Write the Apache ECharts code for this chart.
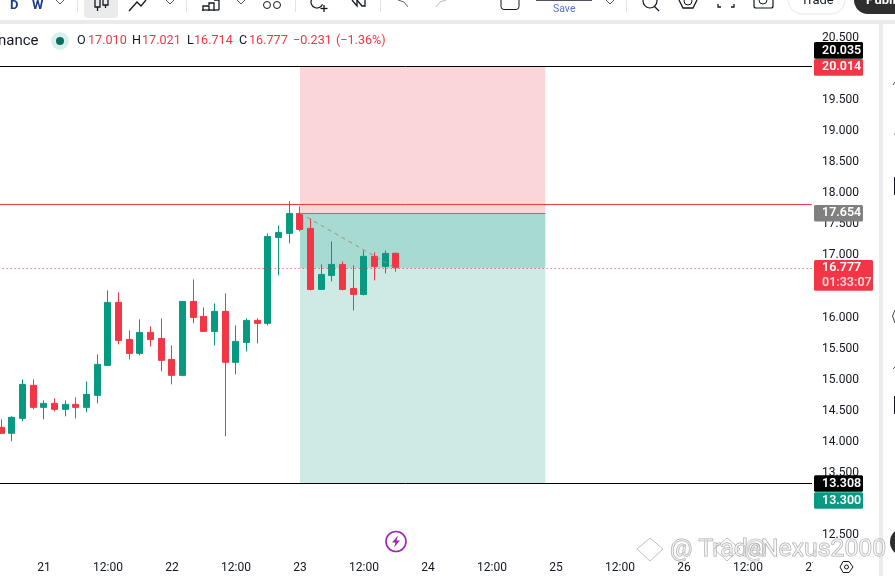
<!DOCTYPE html>
<html><head><meta charset="utf-8">
<style>html,body{margin:0;padding:0;background:#fff;overflow:hidden}#c{width:895px;height:576px}</style>
<script src="https://cdn.jsdelivr.net/npm/echarts@6/dist/echarts.min.js"></script>
</head><body><div id="c"></div>
<script>
const tickLabels = ['21','12:00','22','12:00','23','12:00','24','12:00','25','12:00','26','12:00','27'];
const opens  = [14.211,14.114,14.355,14.886,14.532,14.596,14.500,14.580,14.532,14.725,15.207,16.220,15.625,15.400,15.738,15.641,15.304,15.047,16.236,15.995,15.754,16.076,15.256,15.577,15.931,15.883,17.265,17.330,17.651,17.410,16.429,16.654,16.831,16.445,16.349,16.960,16.799,17.010];
const closes = [14.114,14.372,14.902,14.532,14.596,14.500,14.580,14.532,14.741,15.223,16.220,15.609,15.400,15.738,15.625,15.288,15.047,16.236,15.979,15.754,16.076,15.256,15.593,15.931,15.883,17.281,17.346,17.651,17.394,16.429,16.670,16.831,16.429,16.349,16.960,16.799,17.008,16.777];
const lows   = [14.114,13.986,14.307,14.500,14.339,14.468,14.388,14.355,14.452,14.596,15.207,15.545,15.304,15.368,15.513,15.111,14.902,15.031,15.883,15.754,15.529,14.066,15.063,15.432,15.561,15.850,16.654,17.169,17.362,16.413,16.429,16.558,16.413,16.092,16.333,16.574,16.686,16.714];
const highs  = [14.339,14.388,14.982,14.982,14.645,14.677,14.645,14.693,14.950,15.384,16.413,16.381,15.770,15.947,15.834,15.963,15.529,16.236,16.590,16.140,16.204,16.365,15.850,15.963,15.963,17.330,17.458,17.844,17.764,17.571,16.831,17.201,16.879,16.815,17.056,17.024,17.056,17.021];
const stopPrice = 20.014, entryPrice = 17.654, targetPrice = 13.308, lastLevel = 16.765, redLevel = 17.795, trendEnd = 16.767;
const legendTokens = [[77,'O',0],[88,'17.010',1],[132,'H',0],[142,'17.021',1],[187,'L',0],[194,'16.714',1],[239,'C',0],[249,'16.777',1],[293,'\u22120.231',1],[336,'(\u22121.36%)',1]];
const categories = Array.from({length:78}, (_, i) => (i % 6 === 5 ? tickLabels[(i - 5) / 6] : ''));
const up = '#089981', down = '#F23645', ink = '#131722', gray = '#ebebeb';
const candles = opens.map((o, i) => [i + 1, o, closes[i], lows[i], highs[i]]);
const FONT = 'Roboto, "Liberation Sans", sans-serif';

const chart = echarts.init(document.getElementById('c'), null, {renderer:'canvas'});
function ln(a, b, color, type){
  const s = {color, type:type||'solid', width:1, opacity:1};
  return [{coord:a, lineStyle:s},{coord:b, lineStyle:s}];
}
const hl = (v, color, type) => ln([0, v], [77, v], color, type);

chart.setOption({
  animation:false, backgroundColor:'#fff',
  grid:{left:-14.67, width:832, top:36.28, height:497.44, outerBoundsMode:'none', containLabel:false},
  xAxis:{type:'category', data:categories, boundaryGap:true,
    axisLine:{show:false}, axisTick:{show:false}, splitLine:{show:false},
    axisLabel:{interval:0, margin:28, color:ink, fontSize:12, fontFamily:FONT, hideOverlap:false}},
  yAxis:{type:'value', position:'right', min:12.5, max:20.5, interval:0.5, scale:true,
    axisLine:{show:false}, axisTick:{show:false}, splitLine:{show:false},
    axisLabel:{margin:4.7, formatter:v=>'{a|'+v.toFixed(3)+'}',
      rich:{a:{color:ink, fontSize:12, fontFamily:FONT, padding:[3,0,0,0]}}}},
  series:[{
    type:'candlestick', barWidth:6.5, z:5, data:candles, encode:{x:0,y:[1,2,3,4]},
    itemStyle:{color:up, color0:down, borderColor:up, borderColor0:down, borderWidth:1},
    markArea:{silent:true, z:1, data:[
      [{coord:[29,stopPrice], itemStyle:{color:'#fbd6d9',opacity:1}},{coord:[52,entryPrice]}],
      [{coord:[29,entryPrice], itemStyle:{color:'#a7dad1',opacity:1}},{coord:[52,lastLevel]}],
      [{coord:[29,lastLevel], itemStyle:{color:'#ceeae5',opacity:1}},{coord:[52,targetPrice]}]
    ]},
    markLine:{silent:true, symbol:'none', label:{show:false}, z:6, data:[
      hl(stopPrice,'#000'), hl(targetPrice,'#000'),
      hl(lastLevel,down,[1,3]),
      ln([29,entryPrice],[52,entryPrice],'#808080'),
      ln([29,entryPrice],[38,trendEnd],'#9a9090',[4,4])
    ]}
  },{
    type:'line', z:6, silent:true, symbol:'none', showSymbol:false,
    data:[[0,redLevel],[77,redLevel]], lineStyle:{color:down,width:1,opacity:1}, itemStyle:{color:down}
  }]
});

function tag(text, y, bg, h, w){
  return [{type:'rect', z:30, shape:{x:814,y:y-(h||16.7)/2,width:w||49,height:h||16.7,r:1.5}, style:{fill:bg}},
    ...(Array.isArray(text)?text:[text]).map((t,i,a)=>({type:'text', z:31, style:{x:822,y:y+(i-(a.length-1)/2)*15,text:t,fill:i?'#ffd5d9':'#fff',font:'600 12.5px '+FONT,textVerticalAlign:'middle'}}))];
}
const py = v => chart.convertToPixel({yAxisIndex:0}, v);
function seg(p, col, w){ return {type:'polyline', z:20, shape:{points:p}, style:{stroke:col||ink, lineWidth:w||1.3, fill:'none'}}; }
function txt(x,y,t,fill,font,extra){ return {type:'text', z:20, style:Object.assign({x,y,text:t,fill,font:font||('13px '+FONT),textVerticalAlign:'middle'},extra||{})}; }
function chev(x){ return seg([[x-4,0],[x,4],[x+4,0]],'#555',1); }
function vsep(x){ return {type:'rect', z:20, shape:{x,y:0,width:1,height:12}, style:{fill:'#e3e3e3'}}; }

const chrome = [
  {type:'rect', z:19, shape:{x:0,y:20,width:895,height:4}, style:{fill:gray}},
  {type:'rect', z:19, shape:{x:879,y:20,width:4,height:556}, style:{fill:gray}},
  {type:'rect', z:19, shape:{x:813,y:556,width:9,height:20}, style:{fill:'#fff'}},
  // toolbar
  txt(10,6,'D','#1a3f8a','bold 13px '+FONT), txt(32,6,'W','#1a3f8a','bold 13px '+FONT), chev(60), vsep(77),
  {type:'rect', z:18, shape:{x:84,y:-6,width:34,height:24,r:4}, style:{fill:'#ebebeb'}},
  seg([[95,0],[95,7],[100,7],[100,0]]), seg([[97.5,7],[97.5,11]]), seg([[103,0],[103,5],[108,5],[108,0]]), seg([[105.5,5],[105.5,8]]),
  seg([[129,11],[137,2],[141,6],[146,0]]), chev(170), vsep(186),
  seg([[203,11],[203,6],[209,6],[209,11]]), seg([[209,5],[209,3],[214,3],[214,11]]), seg([[214,0],[219,0],[219,10]]), seg([[202,10],[219,10]]), chev(241),
  {type:'circle', z:20, shape:{cx:267,cy:5,r:3.5}, style:{stroke:ink,fill:'none',lineWidth:1}},
  {type:'circle', z:20, shape:{cx:277,cy:5,r:3.5}, style:{stroke:ink,fill:'none',lineWidth:1}}, vsep(295),
  {type:'arc', z:20, shape:{cx:317,cy:2,r:6,startAngle:0.4,endAngle:3.8,clockwise:true}, style:{stroke:ink,fill:'none',lineWidth:1.2}},
  seg([[324,5],[324,12]]), seg([[320.5,8.5],[327.5,8.5]]),
  seg([[352,0],[357,6],[357,0]]), seg([[357,0],[362,6],[365,6],[365,0]]), vsep(380),
  seg([[398,0],[404,2],[408,7]],'#666',1), seg([[436,7],[440,2],[446,0]],'#bbb',1),
  {type:'rect', z:20, shape:{x:501,y:-6,width:18,height:15.5,r:3}, style:{stroke:ink,fill:'none',lineWidth:1}},
  seg([[536,0],[592,0]],ink,1.5),
  txt(553,9,'Save','#5b6fd6','10.5px '+FONT), chev(610), vsep(626),
  {type:'circle', z:20, shape:{cx:650,cy:1,r:7}, style:{stroke:ink,fill:'none',lineWidth:1.2}}, seg([[654,6],[659,11]]),
  seg([[679,0],[683,8],[693,8],[697,0]]), {type:'circle', z:20, shape:{cx:688,cy:1,r:4}, style:{stroke:ink,fill:'none',lineWidth:1}},
  seg([[718,4],[718,7],[721,7]]), seg([[731,7],[734,7],[734,4]]),
  {type:'rect', z:20, shape:{x:754,y:-6,width:19,height:14,r:2}, style:{stroke:ink,fill:'none',lineWidth:1.2}},
  {type:'circle', z:20, shape:{cx:763,cy:0,r:4}, style:{stroke:ink,fill:'none',lineWidth:1}},
  {type:'rect', z:20, shape:{x:788,y:-15,width:57,height:29,r:14}, style:{stroke:'#e6e6e6',fill:'#fff',lineWidth:1}},
  txt(801,1,'Trade',ink,'13px '+FONT),
  {type:'rect', z:20, shape:{x:854,y:-15,width:60,height:29,r:14}, style:{fill:'#2e2e2e'}},
  txt(866,1,'Publish','#fff','bold 13px '+FONT),
  // legend
  txt(-2,41,'nance',ink,'15px '+FONT),
  {type:'circle', z:20, shape:{cx:60,cy:41,r:9}, style:{fill:'#d9efeb'}},
  {type:'circle', z:21, shape:{cx:60,cy:41,r:4}, style:{fill:'#0b6f5f'}},
  ...legendTokens.map(([x,t,red])=>txt(x,41,t,red?down:ink,'12.6px '+FONT)),
  // lightning badge
  {type:'circle', z:20, shape:{cx:396,cy:541.5,r:10}, style:{stroke:'#9c27b0',fill:'#fff',lineWidth:1.6}},
  {type:'polygon', z:21, shape:{points:[[398,535.5],[392,542.5],[395.5,542.5],[394,547.5],[400,540.5],[396.5,540.5]]}, style:{fill:'#9c27b0'}},
  // settings hexagon
  {type:'polygon', z:20, shape:{points:[[840,567],[843,561.5],[849,561.5],[853,567],[849,572.5],[843,572.5]]}, style:{stroke:ink,fill:'none',lineWidth:1}},
  {type:'circle', z:20, shape:{cx:846.5,cy:567,r:2}, style:{stroke:ink,fill:'none',lineWidth:1}},
  // right panel fragments
  seg([[893,85],[895,82]],'#555',1), seg([[894,134],[895,134]],'#555',1),
  {type:'rect', z:20, shape:{x:894,y:177,width:1,height:18}, style:{fill:ink}},
  seg([[895,310],[892.5,316],[895,323]],'#444',1),
  seg([[893,369],[895,367]],'#555',1),
  {type:'rect', z:20, shape:{x:894,y:396,width:1,height:18}, style:{fill:ink}},
  {type:'circle', z:20, shape:{cx:904,cy:542,r:14}, style:{fill:'#2e2e2e'}},
  // watermark
  ...[650,727].map(cx=>({type:'polygon', z:25, shape:{points:[[cx,538],[cx+13,549],[cx,561],[cx-13,549]]}, style:{fill:'rgba(255,255,255,.55)',stroke:'rgba(170,170,170,.75)',lineWidth:1}})),
  {type:'text', z:26, style:{x:670,y:550,text:'@ TradeNexus2000',fill:'rgba(255,255,255,.5)',stroke:'rgba(140,140,140,.75)',lineWidth:1,font:'24.8px '+FONT,textVerticalAlign:'middle'}},
  {type:'text', z:26, style:{x:744,y:550,text:'@',fill:'rgba(255,255,255,.4)',stroke:'rgba(150,150,150,.6)',lineWidth:1,font:'24.8px '+FONT,textVerticalAlign:'middle'}},
  // price tags (positioned from the axis scale)
  ...tag('20.035', py(stopPrice)-16.1, '#000'),
  ...tag('20.014', py(stopPrice)+0.8, down),
  ...tag('17.654', py(entryPrice), '#808080'),
  ...tag(['16.777','01:33:07'], py(lastLevel)+6.8, down, 30.7, 59),
  ...tag('13.308', py(targetPrice), '#000'),
  ...tag('13.300', py(targetPrice)+17, up)
];
chart.setOption({graphic:{elements:chrome}});
</script></body></html>
